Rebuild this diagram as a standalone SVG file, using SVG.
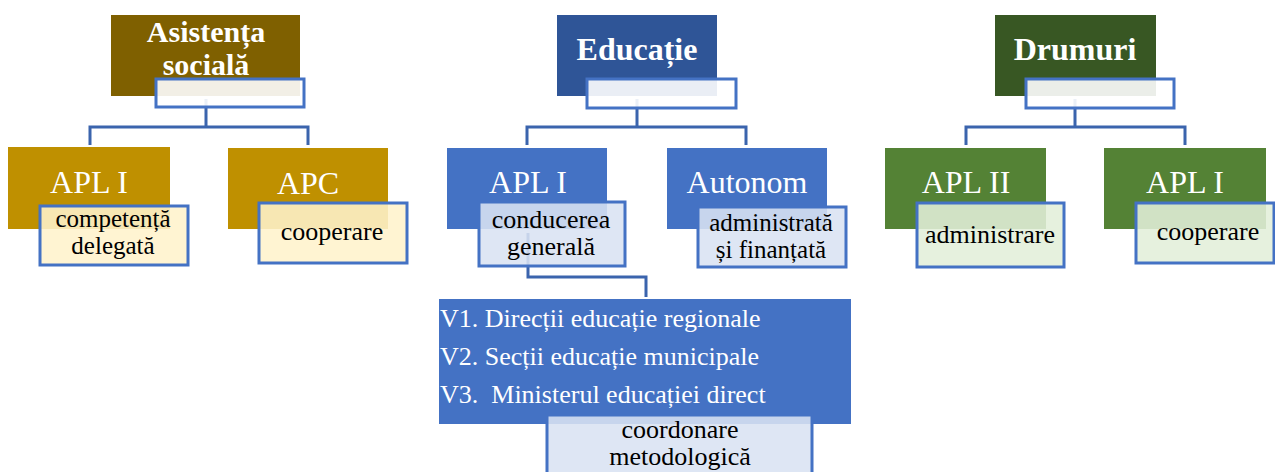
<svg xmlns="http://www.w3.org/2000/svg" width="1275" height="472" viewBox="0 0 1275 472">
<style>
text{font-family:"Liberation Serif","Times New Roman",serif;text-anchor:middle}
.t{font-size:32px;font-weight:bold;fill:#fff}
.l2{font-size:32px;fill:#fff}
.s{font-size:26px;fill:#000}
.s2{font-size:25px;fill:#000}
.v{font-size:26px;fill:#fff;text-anchor:start;white-space:pre}
.hdr{fill:#fff;fill-opacity:0.9;stroke:#4472c4;stroke-width:3}
.subY{fill:#fff2cc;fill-opacity:0.88;stroke:#4472c4;stroke-width:3}
.subB{fill:#dae3f3;fill-opacity:0.88;stroke:#4472c4;stroke-width:3}
.subG{fill:#e2efd9;fill-opacity:0.88;stroke:#4472c4;stroke-width:3}
.conn{fill:none;stroke:#3b64ad;stroke-width:3}
</style>
<g id="connectors">
<path class="conn" d="M206,99 V127 M90,145 V127 H308 V145"/>
<path class="conn" d="M637,99 V127 M527,145 V127 H746 V145"/>
<path class="conn" d="M1075,99 V127 M966,145 V127 H1185 V145"/>
<path class="conn" d="M528,233 V277 H646 V297"/>
</g>
<g id="asistenta">
<rect x="111" y="15" width="189" height="81" fill="#7f6000"/>
<rect class="hdr" x="156" y="79" width="148" height="28"/>
<text class="t" x="206" y="42" style="font-size:30px">Asistența</text>
<text class="t" x="206" y="75" style="font-size:30px">socială</text>
</g>
<g id="as-apl1">
<rect x="8" y="147" width="162" height="82" fill="#bf9000"/>
<text class="l2" x="89" y="193">APL I</text>
<rect class="subY" x="40" y="206" width="148" height="59"/>
<text class="s2" x="113" y="227">competență</text>
<text class="s2" x="113" y="254">delegată</text>
</g>
<g id="as-apc">
<rect x="228" y="148" width="160" height="81" fill="#bf9000"/>
<text class="l2" x="308" y="194">APC</text>
<rect class="subY" x="259" y="203" width="148" height="60"/>
<text class="s" x="332" y="240">cooperare</text>
</g>
<g id="educatie">
<rect x="557" y="15" width="160" height="81" fill="#2f5597"/>
<rect class="hdr" x="587" y="79" width="149" height="29"/>
<text class="t" x="637" y="60">Educație</text>
</g>
<g id="ed-apl1">
<rect x="447" y="148" width="160" height="81" fill="#4472c4"/>
<text class="l2" x="528" y="193">APL I</text>
<rect class="subB" x="479" y="202" width="146" height="64"/>
<text class="s" x="551" y="228">conducerea</text>
<text class="s" x="551" y="255">generală</text>
</g>
<g id="ed-autonom">
<rect x="667" y="148" width="160" height="81" fill="#4472c4"/>
<text class="l2" x="747" y="193">Autonom</text>
<rect class="subB" x="698" y="207" width="148" height="60"/>
<text class="s2" x="771" y="231">administrată</text>
<text class="s2" x="771" y="258">și finanțată</text>
</g>
<g id="ed-variante">
<rect x="439" y="299" width="412" height="125" fill="#4472c4"/>
<text class="v" x="440" y="327">V1. Direcții educație regionale</text>
<text class="v" x="440" y="365">V2. Secții educație municipale</text>
<text class="v" x="440" y="403">V3.  Ministerul educației direct</text>
<rect class="subB" x="547" y="415" width="265" height="70"/>
<text class="s" x="680" y="438">coordonare</text>
<text class="s" x="680" y="465">metodologică</text>
</g>
<g id="drumuri">
<rect x="995" y="15" width="161" height="81" fill="#385723"/>
<rect class="hdr" x="1026" y="79" width="148" height="29"/>
<text class="t" x="1075" y="60">Drumuri</text>
</g>
<g id="dr-apl2">
<rect x="885" y="148" width="161" height="81" fill="#548235"/>
<text class="l2" x="966" y="193">APL II</text>
<rect class="subG" x="917" y="203" width="147" height="64"/>
<text class="s" x="990" y="243">administrare</text>
</g>
<g id="dr-apl1">
<rect x="1104" y="148" width="162" height="81" fill="#548235"/>
<text class="l2" x="1185" y="193">APL I</text>
<rect class="subG" x="1136" y="203" width="138" height="60"/>
<text class="s" x="1208" y="240">cooperare</text>
</g>
</svg>
